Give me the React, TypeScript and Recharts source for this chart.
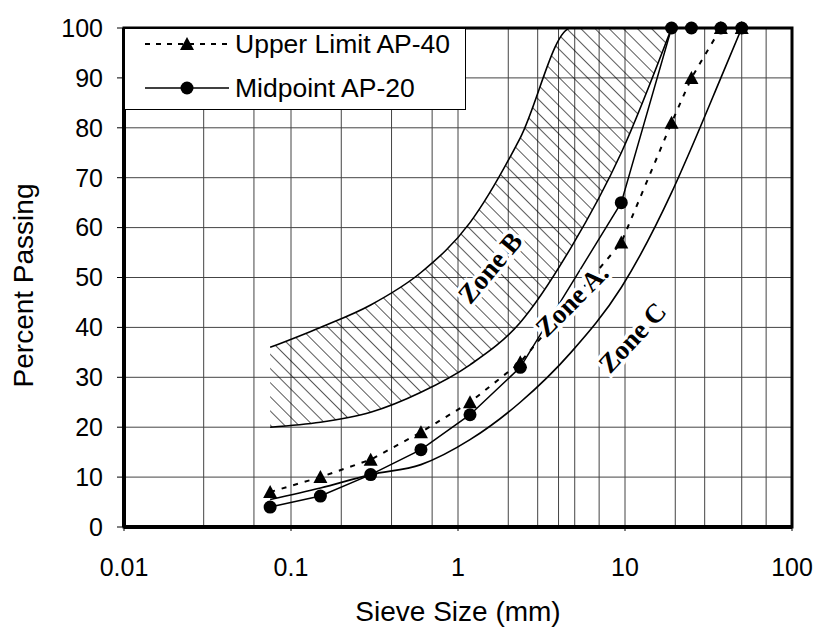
import React from "react";
import {
  ComposedChart,
  Line,
  Area,
  XAxis,
  YAxis,
  CartesianGrid,
  Legend,
  ReferenceDot,
  ReferenceArea,
} from "recharts";

// sieve sizes (mm) and percent passing
const sieveSizes = [0.075, 0.15, 0.3, 0.6, 1.18, 2.36, 4.75, 9.5, 19, 25, 37.5, 50];
const upperLimitAP40 = [7, 10, 13.5, 19, 25, 33, null, 57, 81, 90, 100, 100];
const midpointAP20 = [4, 6.2, 10.5, 15.5, 22.5, 32, null, 65, 100, 100, 100, 100];
const zoneBUpper = [36, 40, 44.5, 51, 61, 78, 100, 100, 100, null, null, null];
const zoneBLower = [20, 21, 23, 27, 32.5, 41, 56, 75, 100, null, null, null];
const zoneCLine = [5.5, 7.8, 10.5, 12.5, 17.5, 25, 35, 48, 67, 76, 90, 100];

const xTicks = [0.01, 0.1, 1, 10, 100];
const yTicks = [0, 10, 20, 30, 40, 50, 60, 70, 80, 90, 100];
const gridSteps = [1, 2, 3, 4, 5, 6, 7, 8, 9];
const decades = [0.01, 0.1, 1, 10];

const zoneLabels = [
  { text: "Zone B", x: 1.55, y: 52, rot: -50 },
  { text: "Zone A.", x: 4.8, y: 45.5, rot: -45 },
  { text: "Zone C", x: 11, y: 38, rot: -47 },
];

const data = sieveSizes.map((size, i) => ({
  size,
  upper: upperLimitAP40[i],
  mid: midpointAP20[i],
  zoneB: zoneBUpper[i] == null ? null : [zoneBLower[i], zoneBUpper[i]],
  zoneC: zoneCLine[i],
}));

const verticalGrid = decades
  .flatMap((d) => gridSteps.map((s) => +(d * s).toPrecision(3)))
  .concat([100]);

const SANS = "'Liberation Sans', Arial, sans-serif";
const SERIF = "'Liberation Serif', 'Times New Roman', serif";

const triangle = (props: any) => {
  const { cx, cy, index } = props;
  if (cx == null || cy == null) return <g key={`t-${index}`} />;
  return (
    <path
      key={`t-${index}`}
      d={`M${cx},${cy - 7} L${cx + 7},${cy + 6} L${cx - 7},${cy + 6} Z`}
      fill="#000"
    />
  );
};

const circle = (props: any) => {
  const { cx, cy, index } = props;
  if (cx == null || cy == null) return <g key={`c-${index}`} />;
  return <circle key={`c-${index}`} cx={cx} cy={cy} r={6.5} fill="#000" />;
};

const ZoneText = (props: any) => {
  const { viewBox, text, rot } = props;
  const cx = viewBox.x + (viewBox.width || 0) / 2;
  const cy = viewBox.y + (viewBox.height || 0) / 2;
  return (
    <text
      x={cx}
      y={cy}
      dy="0.35em"
      textAnchor="middle"
      transform={`rotate(${rot} ${cx} ${cy})`}
      fontFamily={SERIF}
      fontWeight="bold"
      fontSize={27}
      fill="#000"
      stroke="#fff"
      strokeWidth={7}
      paintOrder="stroke"
    >
      {text}
    </text>
  );
};

const YTitle = (props: any) => {
  const { viewBox } = props;
  const x = viewBox.x + 15;
  const y = viewBox.y + viewBox.height / 2 + 8;
  return (
    <text
      x={x}
      y={y}
      dy="0.36em"
      textAnchor="middle"
      transform={`rotate(-90 ${x} ${y})`}
      fontFamily={SANS}
      fontSize={28}
      fill="#000"
    >
      Percent Passing
    </text>
  );
};

const XTitle = (props: any) => {
  const { viewBox } = props;
  const x = viewBox.x + viewBox.width / 2;
  const y = viewBox.y + 74;
  return (
    <text x={x} y={y} dy="0.72em" textAnchor="middle" fontFamily={SANS} fontSize={28} fill="#000">
      Sieve Size (mm)
    </text>
  );
};

const LegendBox = () => (
  <svg width={342} height={82} style={{ display: "block" }}>
    <rect x={0.5} y={0.5} width={341} height={81} fill="#fff" stroke="#000" />
    <line x1={21} y1={16} x2={103} y2={16} stroke="#000" strokeWidth={2} strokeDasharray="5 6" />
    <path d="M63,9 L70,22 L56,22 Z" fill="#000" />
    <text x={111} y={25} fontFamily={SANS} fontSize={26.5} fill="#000">
      Upper Limit AP-40
    </text>
    <line x1={21} y1={60} x2={105} y2={60} stroke="#000" strokeWidth={1.5} />
    <circle cx={63} cy={60} r={6.5} fill="#000" />
    <text x={111} y={69} fontFamily={SANS} fontSize={26.5} fill="#000">
      Midpoint AP-20
    </text>
  </svg>
);

export default function App() {
  return (
    <div
      style={{
        position: "absolute",
        left: 8,
        top: 8,
        width: 806,
        height: 620,
        overflow: "hidden",
      }}
    >
      <ComposedChart
        width={806}
        height={620}
        data={data}
        margin={{ top: 20, right: 22, bottom: 41, left: 0 }}
      >
        <defs>
          <pattern
            id="hatch"
            width="10"
            height="10"
            patternUnits="userSpaceOnUse"
            patternTransform="rotate(-45)"
          >
            <line x1="0" y1="0" x2="0" y2="10" stroke="#000" strokeWidth="1.3" />
          </pattern>
        </defs>
        <CartesianGrid
          stroke="#444"
          strokeWidth={1}
          verticalValues={verticalGrid}
          horizontalValues={yTicks}
        />
        <XAxis
          dataKey="size"
          type="number"
          scale="log"
          domain={[0.01, 100]}
          ticks={xTicks}
          allowDataOverflow
          height={60}
          tickSize={4}
          tickMargin={27}
          tickFormatter={(v: number) => String(v)}
          tick={{ fill: "#000", fontSize: 25, fontFamily: SANS }}
          axisLine={{ stroke: "#000", strokeWidth: 4 }}
          tickLine={{ stroke: "#000" }}
          label={<XTitle />}
        />
        <YAxis
          type="number"
          domain={[0, 100]}
          ticks={yTicks}
          width={116}
          tickSize={7}
          tickMargin={14}
          tick={{ fill: "#000", fontSize: 25, fontFamily: SANS }}
          axisLine={{ stroke: "#000", strokeWidth: 4 }}
          tickLine={{ stroke: "#000" }}
          label={<YTitle />}
        />
        <Area
          dataKey="zoneB"
          type="monotone"
          stroke="#000"
          strokeWidth={1.6}
          fill="url(#hatch)"
          fillOpacity={1}
          connectNulls
          dot={false}
          activeDot={false}
          isAnimationActive={false}
          legendType="none"
        />
        <Line
          dataKey="zoneC"
          type="monotone"
          stroke="#000"
          strokeWidth={1.6}
          dot={false}
          activeDot={false}
          connectNulls
          isAnimationActive={false}
          legendType="none"
        />
        <Line
          dataKey="upper"
          name="Upper Limit AP-40"
          type="linear"
          stroke="#000"
          strokeWidth={2}
          strokeDasharray="5 7"
          dot={triangle}
          activeDot={false}
          connectNulls
          isAnimationActive={false}
        />
        <Line
          dataKey="mid"
          name="Midpoint AP-20"
          type="linear"
          stroke="#000"
          strokeWidth={1.5}
          dot={circle}
          activeDot={false}
          connectNulls
          isAnimationActive={false}
        />
        {zoneLabels.map((z) => (
          <ReferenceDot
            key={z.text}
            x={z.x}
            y={z.y}
            r={0}
            fill="none"
            stroke="none"
            label={<ZoneText text={z.text} rot={z.rot} />}
          />
        ))}
        <ReferenceArea
          x1={0.01}
          x2={100}
          y1={0}
          y2={100}
          fill="none"
          stroke="#000"
          strokeWidth={3}
          ifOverflow="visible"
        />
        <Legend
          layout="vertical"
          align="center"
          verticalAlign="middle"
          wrapperStyle={{ left: 116, top: 20, width: 342, height: 82 }}
          content={() => <LegendBox />}
        />
      </ComposedChart>
    </div>
  );
}
